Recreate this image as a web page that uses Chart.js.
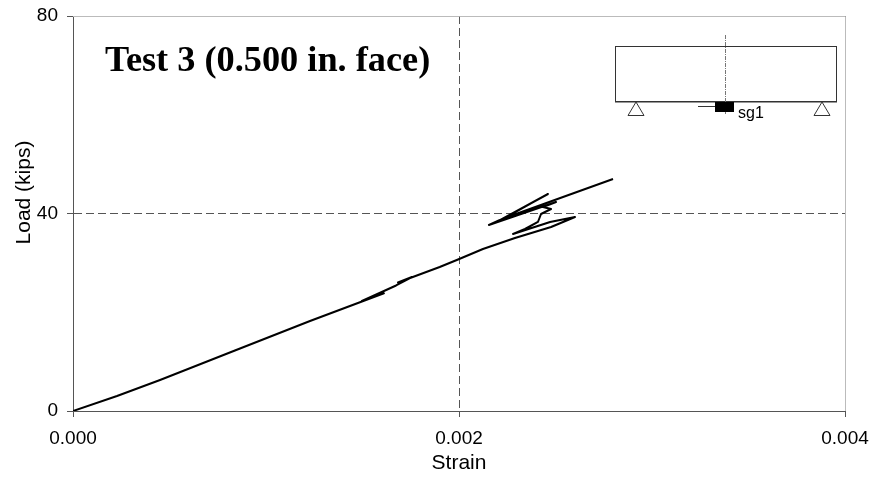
<!DOCTYPE html>
<html>
<head>
<meta charset="utf-8">
<title>Test 3</title>
<script src="https://cdn.jsdelivr.net/npm/chart.js@4"></script>
<style>
  html, body { margin: 0; padding: 0; background: #fff; }
  canvas { display: block; }
</style>
</head>
<body>
<canvas id="chart" width="870" height="477"></canvas>
<script>
// Values, in loading order
const strain = [0, 0.000228, 0.000451, 0.000839, 0.001228, 0.001611, 0.001497, 0.001674, 0.001756, 0.001684, 0.0019, 0.001995,
  0.002124, 0.00229, 0.002477, 0.002601, 0.002472, 0.00228, 0.002342, 0.002409, 0.002425, 0.002477,
  0.002435, 0.002503, 0.002155, 0.002212, 0.002461, 0.002238, 0.002539, 0.002798];
const load = [0, 3.04, 6.28, 12.25, 18.23, 23.85, 22.28, 25.42, 27.14, 26.03, 29.16, 30.68,
  32.81, 35.04, 37.27, 39.29, 38.28, 35.85, 36.86, 38.28, 39.9, 40.91,
  41.32, 42.33, 37.67, 38.68, 43.95, 39.09, 43.34, 46.99];
const xTicks = [0, 0.002, 0.004];
const yTicks = [0, 40, 80];
const titleText = 'Test 3 (0.500 in. face)';
const xAxisTitle = 'Strain';
const yAxisTitle = 'Load (kips)';

const axisColor = '#555';
const tickFont = { family: "'Liberation Sans', Arial, sans-serif", size: 19 };
const titleFont = { family: "'Liberation Sans', Arial, sans-serif", size: 21 };

// Pale frame under the dashed lines on the top and right edges
const frame = {
  id: 'frame',
  beforeDatasetsDraw(chart) {
    const c = chart.ctx, a = chart.chartArea;
    c.save();
    c.strokeStyle = '#bbb';
    c.lineWidth = 1;
    c.beginPath();
    c.moveTo(a.left, a.top + 0.5);
    c.lineTo(a.right + 0.5, a.top + 0.5);
    c.lineTo(a.right + 0.5, a.bottom);
    c.stroke();
    c.restore();
  }
};

// Title, y axis label (sits above centre in the original) and the beam sketch
const sketch = {
  id: 'sketch',
  afterDraw(chart) {
    const c = chart.ctx;
    c.save();
    c.fillStyle = '#000';
    c.font = "bold 36.3px 'Liberation Serif', serif";
    c.textBaseline = 'alphabetic';
    c.fillText(titleText, 105, 71);

    c.save();
    c.translate(30, 192.5);
    c.rotate(-Math.PI / 2);
    c.textAlign = 'center';
    c.font = "21px 'Liberation Sans', Arial, sans-serif";
    c.fillText(yAxisTitle, 0, 0);
    c.restore();

    c.strokeStyle = '#333';
    c.lineWidth = 1;
    c.strokeRect(615.5, 46.5, 221, 55);
    c.beginPath();
    c.moveTo(615, 102);
    c.lineTo(837, 102);
    c.stroke();

    c.strokeStyle = '#777';
    c.setLineDash([4, 1, 1, 1]);
    c.beginPath();
    c.moveTo(725.5, 35);
    c.lineTo(725.5, 114);
    c.stroke();
    c.setLineDash([]);

    c.strokeStyle = '#333';
    [636, 822].forEach(x => {
      c.beginPath();
      c.moveTo(x, 102);
      c.lineTo(x - 8, 115.5);
      c.lineTo(x + 8, 115.5);
      c.closePath();
      c.stroke();
    });

    c.fillStyle = '#000';
    c.fillRect(715, 102, 19, 10);
    c.beginPath();
    c.moveTo(698, 106.5);
    c.lineTo(715, 106.5);
    c.stroke();

    c.font = "16px 'Liberation Sans', Arial, sans-serif";
    c.fillText('sg1', 738, 118);
    c.restore();
  }
};

new Chart(document.getElementById('chart'), {
  type: 'scatter',
  data: {
    datasets: [{
      data: strain.map((s, i) => ({ x: s, y: load[i] })),
      showLine: true,
      borderColor: '#000',
      borderWidth: 2,
      borderJoinStyle: 'round',
      pointRadius: 0,
      tension: 0
    }]
  },
  plugins: [frame, sketch],
  options: {
    responsive: false,
    animation: false,
    layout: { padding: { left: 0, right: 25, top: 16, bottom: 0 } },
    plugins: { legend: { display: false }, tooltip: { enabled: false } },
    scales: {
      x: {
        type: 'linear',
        min: 0,
        max: 0.004,
        afterBuildTicks: s => { s.ticks = xTicks.map(v => ({ value: v })); },
        afterFit: s => { s.height = 66; s.paddingRight = 0; s.paddingLeft = 0; },
        ticks: { color: '#000', font: tickFont, maxRotation: 0, padding: 10, callback: v => v.toFixed(3) },
        grid: { color: axisColor, tickColor: axisColor, tickLength: 6, lineWidth: 1, tickBorderDash: [] },
        border: { color: axisColor, dash: [8, 4] },
        title: { display: true, text: xAxisTitle, color: '#000', font: titleFont, padding: { top: 0, bottom: 1 } }
      },
      y: {
        min: 0,
        max: 80,
        afterBuildTicks: s => { s.ticks = yTicks.map(v => ({ value: v })); },
        afterFit: s => { s.width = 73; s.paddingTop = 0; s.paddingBottom = 0; },
        ticks: { color: '#000', font: tickFont, padding: 9 },
        grid: { color: axisColor, tickColor: axisColor, tickLength: 6, lineWidth: 1, tickBorderDash: [] },
        border: { color: axisColor, dash: [8, 4] }
      }
    }
  }
});
</script>
</body>
</html>
